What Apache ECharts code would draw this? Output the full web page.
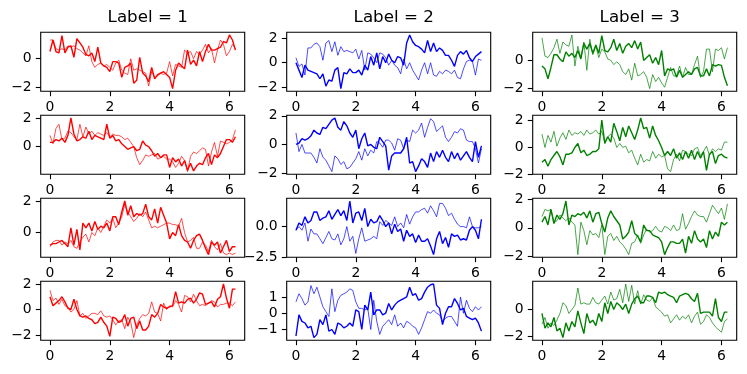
<!DOCTYPE html>
<html>
<head>
<meta charset="utf-8">
<script src="https://cdn.jsdelivr.net/npm/echarts@6/dist/echarts.min.js"></script>
<style>
html,body{margin:0;padding:0;background:#fff;}
#chart{width:747px;height:374px;}
</style>
</head>
<body>
<div id="chart"></div>
<script>
// x values (0 .. 6.2, step 0.1)
const xValues = [0,0.1,0.2,0.3,0.4,0.5,0.6,0.7,0.8,0.9,1,1.1,1.2,1.3,1.4,1.5,1.6,1.7,1.8,1.9,2,2.1,2.2,2.3,2.4,2.5,2.6,2.7,2.8,2.9,3,3.1,3.2,3.3,3.4,3.5,3.6,3.7,3.8,3.9,4,4.1,4.2,4.3,4.4,4.5,4.6,4.7,4.8,4.9,5,5.1,5.2,5.3,5.4,5.5,5.6,5.7,5.8,5.9,6,6.1,6.2];

const titles = ['Label = 1','Label = 2','Label = 3'];
const colors = ['#ff0000','#0000ff','#008000'];
const xTicks = [0,2,4,6];

// Column 1 (Label = 1)
const r1c1Thick = [0.5,1.3,0.5,0.4,1.6,0.4,0.8,0.9,0.1,1.4, 1.1,0.8,0.3,0.2,0.4,-0.2,0.8,-0.3,-0.5,-0.6, -0.9,-0.2,-0.2,-0.3,-1.3,-0.6,-0.5,-0.3,-1.7,-1.5, 0.1,-1.0,-1.2,-1.6,-0.6,-1.4,-1.1,-1.0,-0.9,-1.1, -1.3,-2.08,-0.8,-0.3,-0.5,-0.7,0.6,-0.4,-0.1,-0.5, 0.5,-0.2,0.5,1.0,0.6,0.6,0.7,0.8,1.2,1.1, 1.65,1.3,0.6];
const r1c1Thin = [1.3,1.3,0.7,0.6,0.7,0.6,0.9,0.8,0.9,0.7, 0.6,0.4,0.2,0.9,-0.2,-0.6,-0.4,-0.3,-0.5,-0.4, -0.6,-0.8,-0.3,-0.1,-0.8,-1.0,-1.1,0.0,-0.8,-0.7, -0.8,-0.9,-1.0,-1.9,-0.9,-1.3,-1.2,-1.0,-1.1,-1.0, -0.2,-1.2,-0.4,-0.5,-0.6,0.6,0.4,0.5,0.0,0.5, 0.3,0.6,1.0,0.4,0.7,-0.3,0.6,1.3,1.0,0.2, 0.5,1.0,0.7];
const r2c1Thick = [0.3,0.3,0.5,0.4,0.6,0.3,0.8,2.05,0.9,0.4, 0.5,0.7,0.6,1.1,0.5,0.8,0.7,0.6,0.5,1.6, 0.6,0.8,0.4,0.5,0.2,0.0,-0.2,-0.1,0.0,-0.3, -0.2,0.4,0.1,0.0,-0.3,-0.7,-0.5,-0.8,-0.6,-0.6, -1.5,-0.8,-1.1,-0.9,-1.4,-1.0,-1.7,-1.2,-1.75,-1.4, -1.2,-1.3,-0.8,-0.5,-1.3,-0.6,-0.8,-0.5,0.0,0.5, 0.5,0.3,0.7];
const r2c1Thin = [0.8,0.2,1.3,1.6,0.5,0.6,1.1,1.0,0.7,0.5, 1.6,0.7,1.4,0.9,1.1,0.8,1.0,0.9,0.8,1.0, 0.7,0.9,0.8,0.8,0.7,0.5,0.6,0.3,0.0,-0.8, -1.3,-1.0,-0.6,-0.7,-0.6,-0.5,-0.9,-0.8,-0.7,-0.9, -0.9,-1.1,-1.5,-1.2,-0.7,-1.0,-1.8,-0.7,-0.4,-0.5, -0.3,-0.1,-0.2,-1.4,-0.4,0.3,-0.7,0.4,0.3,0.2, 0.3,0.5,1.2];
const r3c1Thick = [-0.8,-0.7,-0.7,-0.6,-0.5,-0.7,-0.9,0.3,-0.8,0.2, -1.1,0.6,0.3,0.6,0.1,0.7,0.2,0.4,0.3,0.6, 0.1,1.0,1.0,0.5,1.3,2.0,1.1,1.7,1.0,1.2, 1.1,1.2,1.8,1.0,0.8,1.5,0.6,1.6,1.1,0.6, -0.4,0.0,-0.2,0.5,-0.2,-0.5,-0.6,-1.0,-0.5,-0.2, -0.1,-0.5,-1.0,-1.4,-0.6,-0.8,-0.6,-1.3,-0.9,-0.5, -1.2,-0.9,-0.9];
const r3c1Thin = [-0.9,-0.6,-0.5,-0.5,-0.8,-0.6,-0.7,-0.5,-0.9,-1.0, -0.6,-0.3,-0.1,-0.6,0.0,-0.2,0.3,0.0,0.4,0.8, 0.6,0.9,0.3,0.6,1.0,1.8,1.3,1.0,0.7,0.9, 1.2,1.0,1.3,0.8,0.3,0.4,0.3,0.4,0.5,0.6, 0.6,0.5,0.5,0.4,0.9,0.0,-0.6,-0.5,-0.3,-1.0, -1.0,-0.6,-0.8,-1.2,-0.5,-0.9,-1.1,-0.7,-1.3,-1.4, -1.3,-1.4,-1.3];
const r4c1Thick = [1.0,0.3,0.5,0.7,1.0,0.6,0.1,0.0,0.8,0.0, -0.5,-0.6,-0.5,-0.7,-0.8,-1.1,-1.0,-0.6,-1.0,-1.3, -2.1,-0.6,-0.7,-1.0,-0.9,-0.4,-1.3,-0.7,-0.6,-1.5, -0.9,-1.6,-1.6,-1.3,-0.4,-0.6,-0.3,0.4,0.2,0.1, 0.2,0.3,1.4,0.5,0.6,0.5,0.8,0.9,0.5,0.8, 1.3,1.2,0.4,0.5,0.6,0.2,0.8,1.0,2.0,0.9, 0.1,1.6,1.6];
const r4c1Thin = [1.5,0.7,0.9,0.4,0.8,0.3,0.2,-0.2,0.0,0.7, -0.5,-0.3,-0.7,-0.5,-0.3,-0.3,-0.4,-0.1,-0.5,-0.6, -0.5,-0.8,-1.2,-0.9,-0.8,-1.5,-0.6,-1.0,-2.2,-1.2, -0.7,-0.4,-0.5,-0.3,0.6,-0.2,-0.3,-0.9,0.5,0.0, 0.3,0.2,0.7,0.4,-0.2,1.1,1.0,0.6,1.2,0.7, 0.3,0.4,0.3,0.5,0.7,0.6,0.2,0.4,0.4,0.5, 0.5,0.3,0.6];

// Column 2 (Label = 2)
const r1c2Thick = [0.0,-0.6,-1.2,-0.2,-0.6,-0.7,-0.8,-0.9,-1.3,-0.9, -1.9,-1.4,-1.5,-0.6,-0.4,-2.1,-0.8,-0.9,-0.5,-0.8, -0.8,-0.6,-1.0,-0.2,-0.6,0.5,-0.2,0.8,-0.5,0.5, 0.0,0.7,0.2,0.0,0.5,0.4,-0.2,1.6,2.25,1.7, 1.4,1.3,1.1,0.8,1.8,0.9,1.6,0.9,1.2,1.0, 0.6,0.6,0.2,-0.3,0.6,0.9,0.7,1.0,0.4,0.1, 0.5,0.7,0.9];
const r1c2Thin = [0.4,-0.3,-0.1,-1.0,1.2,1.2,1.5,1.6,1.3,0.2, 1.6,1.8,0.9,1.7,0.6,1.3,0.9,1.0,0.9,0.8, 1.1,0.3,1.0,-0.6,0.8,0.7,0.4,0.0,0.8,0.7, 0.4,-0.2,0.2,-0.2,-0.4,-0.9,0.3,-0.5,0.0,-0.6, -1.0,-1.4,-0.6,0.0,-0.9,0.0,-1.0,-1.1,-0.7,-0.9, -0.6,-0.7,-0.9,-0.6,-1.2,-1.3,-0.5,0.1,0.2,0.1, -1.0,0.3,0.2];
const r2c2Thick = [0.0,0.1,0.4,0.3,0.4,0.6,1.0,0.8,0.7,1.2, 1.1,1.4,1.7,1.85,1.2,1.0,1.6,1.3,0.8,0.5, 1.0,-0.3,0.4,0.8,-0.1,0.0,-0.2,-0.3,0.5,0.2, -0.1,-1.8,-0.8,-0.6,-0.6,-0.6,-0.3,0.5,-1.3,-1.2, -1.9,-1.5,-1.0,-1.2,-1.6,-0.6,-1.2,-0.5,-0.9,-0.4, -0.9,-1.2,-0.5,-1.0,-0.6,-1.1,-0.8,-0.5,-0.9,-1.2, 0.2,-0.9,-0.1];
const r2c2Thin = [0.8,-0.5,0.0,-0.6,-0.6,-0.6,-0.9,-1.3,-0.3,-0.9, -1.1,-1.5,-1.9,-0.8,-1.0,-1.4,-1.2,-1.7,-1.6,-1.3, -1.0,-0.5,-1.1,-0.3,-0.8,-0.4,-0.6,0.2,0.1,-0.2, 0.3,0.3,0.1,-0.4,0.4,0.3,-0.3,0.3,0.2,1.0, 0.8,1.0,1.5,0.5,1.2,1.8,1.6,0.9,1.1,1.3, 0.5,0.2,0.5,0.9,0.8,1.1,1.0,0.3,0.2,0.2, -0.3,-1.3,-0.3];
const r3c2Thick = [-0.3,0.3,0.1,0.8,0.3,0.5,1.2,1.2,0.5,0.7, 0.8,1.3,0.6,1.0,1.4,0.9,1.3,0.5,2.1,0.3, 1.1,1.2,0.5,1.5,0.0,0.6,0.3,0.4,0.9,0.5, 0.0,0.3,-0.6,0.2,-0.4,-0.2,-1.2,-0.3,-0.8,-0.6, -1.3,-0.7,-1.2,-1.2,-1.0,-1.6,-2.3,-1.0,-0.4,-1.4, -0.9,-1.7,-0.6,-0.8,-0.7,-1.1,-1.0,-1.1,-0.3,0.0, -0.3,-1.0,0.6];
const r3c2Thin = [-0.3,0.0,-0.3,0.3,-1.2,-0.2,-0.6,-0.6,-1.0,-1.4, -0.9,-0.4,-1.0,-1.1,-0.6,-1.5,-1.0,0.0,-1.2,-0.8, -2.2,-1.0,-0.1,-1.2,-1.1,-1.0,-0.8,-1.0,0.4,0.1, 0.5,0.3,0.1,0.8,0.0,0.3,-0.1,1.0,0.2,0.8, 1.2,1.2,1.4,1.5,1.1,1.7,1.3,0.8,1.9,1.9, 1.5,0.9,1.1,0.6,0.2,0.0,0.0,-0.1,0.8,0.0, -0.1,-0.1,0.0];
const r4c2Thick = [-1.4,-0.1,-0.5,-0.6,-0.9,-0.8,-1.5,-1.3,-0.4,-0.7, -0.1,-1.1,-1.0,-1.3,-0.6,-0.7,-0.9,-0.8,-0.6,-0.8, 0.2,0.1,-1.0,0.5,0.2,1.3,-0.1,0.2,0.2,-0.1, 0.0,0.6,0.2,0.5,0.7,0.8,0.9,1.0,1.6,1.1, 1.2,0.8,0.9,1.3,1.6,1.75,1.8,0.5,0.3,-0.7, 0.0,0.4,0.4,0.9,0.6,0.2,0.3,-0.2,-0.3,-0.4, -0.3,-0.6,-1.1];
const r4c2Thin = [0.7,1.2,0.9,0.5,0.7,1.7,1.2,1.6,1.0,0.4, 0.1,-0.2,1.5,0.1,0.8,1.1,1.2,1.3,1.5,1.4, 0.7,0.3,0.3,0.2,0.3,-1.0,0.8,-0.5,-1.3,-0.8, -0.6,-0.4,-0.7,-0.1,-0.8,-0.6,-0.9,-0.5,-0.6,-0.8, -0.9,-1.3,-0.9,-0.4,0.1,0.0,0.2,0.0,-0.1,-0.5, -0.3,-0.2,-0.2,-0.5,-0.8,1.0,0.0,0.8,0.3,0.1, 0.4,0.2,0.4];

// Column 3 (Label = 3)
const r1c3Thick = [-0.4,-0.6,-1.3,-0.5,0.4,0.4,0.1,-0.1,0.6,0.3, 0.5,0.2,0.7,0.1,1.2,0.8,1.2,0.5,1.1,0.5, 1.75,0.7,0.6,0.9,1.5,0.7,1.2,0.5,1.0,1.2, 0.9,1.4,0.8,1.3,0.0,0.2,0.4,-0.2,0.2,-0.3, 0.7,-1.1,-0.6,-0.7,-0.6,-1.2,-0.7,-1.2,-1.0,-0.8, -1.0,-0.6,-0.5,-1.1,-1.1,-0.6,-1.1,-0.3,-0.4,-0.3, -0.35,-1.2,-1.8];
const r1c3Thin = [1.6,0.3,0.2,0.5,0.9,1.5,0.5,1.3,1.1,1.0, 1.8,-0.4,1.0,0.2,1.3,-0.7,1.5,0.4,1.0,0.2, 0.8,0.6,0.1,0.0,-0.3,-0.1,-0.3,-0.8,-1.0,-0.6, -1.4,-0.2,-1.1,-1.0,-0.8,-1.2,-2.0,-1.0,-1.5,-1.2, -1.6,-1.9,-1.2,-0.5,-1.1,-1.1,-0.4,-1.2,-0.5,-1.0, -1.0,-0.3,0.3,-1.2,-0.8,0.8,0.8,-0.8,0.8,0.7, 0.9,0.1,0.9];
const r2c3Thick = [-1.1,-0.9,-1.4,-0.9,-0.6,-0.3,-0.7,-1.3,-0.5,-0.5, -0.4,0.0,0.3,-0.4,-0.2,-0.6,-0.5,-0.3,-0.3,-0.1, 2.05,0.3,0.8,0.4,1.8,1.2,0.5,1.5,0.8,1.6, 1.1,0.6,1.3,2.2,1.4,1.5,0.7,1.6,0.9,0.5, 0.0,-0.6,-0.3,-0.6,-0.1,-0.8,-0.4,-0.9,-0.3,-0.8, -0.2,-0.9,-0.3,-0.8,-0.3,-1.7,-0.5,-0.3,-1.2,-0.6, -0.5,-0.7,-0.8];
const r2c3Thin = [1.0,0.0,0.9,0.4,1.2,0.1,0.7,1.1,0.6,1.3, 0.9,1.1,1.0,1.2,0.9,1.3,1.0,1.1,1.3,1.0, 1.2,0.4,0.8,1.0,0.7,0.0,0.3,0.0,0.1,-0.4, -0.2,-0.8,-1.3,-0.5,-1.1,-0.9,-1.0,-0.3,-0.8,-0.5, -0.7,-0.6,-1.6,-1.8,-0.9,-0.5,-1.0,-0.2,-0.3,-0.5, -0.6,-0.1,0.0,-0.6,-0.3,0.1,-0.6,-0.1,-0.3,-0.1, -0.2,0.4,0.4];
const r3c3Thick = [0.4,0.8,0.2,1.3,0.3,0.9,0.6,1.0,1.9,0.2, 0.9,0.8,1.0,0.9,1.1,0.7,1.2,0.4,1.0,1.1, 0.3,-0.3,0.7,1.2,0.8,0.5,0.2,-0.8,-0.6,-0.3, 0.5,-0.4,-0.6,-1.0,0.2,-0.2,-0.2,-0.5,-0.6,-0.7, -1.0,-1.9,-1.4,-1.0,-1.0,-1.1,-1.1,-0.8,-1.8,-0.6, -1.1,-0.2,-0.8,-1.0,-0.8,-1.4,-0.2,-0.8,-0.3,-0.6, 0.4,0.2,0.4];
const r3c3Thin = [0.8,1.3,1.2,1.3,0.4,0.5,0.9,0.7,0.5,0.7, 0.4,0.2,-1.9,0.4,-0.2,-1.2,-0.2,-0.5,-0.4,-0.7, 0.2,-1.9,-0.6,-0.4,-0.9,-0.6,-1.0,-1.2,-1.5,-1.9, -1.1,-1.0,-0.5,-1.1,-0.5,-0.1,-0.3,-0.2,0.1,-0.2, -0.3,0.1,0.0,-0.2,0.2,-0.2,-0.1,1.0,-0.1,0.3, 0.8,1.2,0.9,0.8,0.8,0.4,1.0,1.6,1.3,1.0, 1.4,0.6,1.7];
const r4c3Thick = [-0.3,-1.4,-1.0,-1.3,-0.6,-1.6,-1.4,-2.1,-1.0,-1.6, -0.9,-1.3,-0.1,-1.0,-1.8,-0.3,-1.0,-0.8,-1.2,-0.3, -0.9,0.5,-0.3,0.6,0.0,0.5,0.3,0.0,0.4,-0.3, 0.4,0.8,1.0,0.5,0.5,1.0,1.0,0.9,0.5,1.3, 1.2,1.3,1.1,1.0,0.9,0.5,1.0,1.1,1.2,1.1, 0.8,0.6,1.2,-0.3,-0.2,-0.2,-0.2,-0.5,0.8,-0.6, -0.9,-0.2,-0.2];
const r4c3Thin = [-1.1,-0.6,-1.4,-1.0,-1.2,-0.8,-0.3,0.5,0.3,-0.3, 0.0,0.3,1.6,0.4,0.5,0.4,0.4,0.9,0.5,0.4, 0.7,1.0,0.4,1.3,0.7,0.8,1.5,0.5,1.9,0.6, 1.8,0.4,1.4,0.4,1.1,0.7,0.6,0.9,0.2,0.0, -0.2,-0.5,-0.4,-1.0,-0.7,-0.4,-0.8,-0.5,-0.7,-0.4, -1.0,-0.5,-0.2,-1.1,-0.9,-0.4,-0.6,-1.0,-1.3,-1.5, -1.7,-0.9,-0.7];

// y tick values per panel [row][col]
const yTicks = [
  [[-2,0],[-2,0,2],[-2,0]],
  [[0,2],[-2,0,2],[-2,0,2]],
  [[0,2],[-2.5,0],[-2,0,2]],
  [[-2,0,2],[-1,0,1],[-2,0]]
];
const yDecimals = [[0,0,0],[0,0,0],[0,1,0],[0,0,0]];

const thickData = [
  [r1c1Thick, r1c2Thick, r1c3Thick],
  [r2c1Thick, r2c2Thick, r2c3Thick],
  [r3c1Thick, r3c2Thick, r3c3Thick],
  [r4c1Thick, r4c2Thick, r4c3Thick]
];
const thinData = [
  [r1c1Thin, r1c2Thin, r1c3Thin],
  [r2c1Thin, r2c2Thin, r2c3Thin],
  [r3c1Thin, r3c2Thin, r3c3Thin],
  [r4c1Thin, r4c2Thin, r4c3Thin]
];

const colLeft = [40.7, 286.7, 532.7];
const rowTop = [32.3, 115.3, 198.3, 281.3];
const panelW = 204;
const panelH = 59;
const FONT = 'DejaVu Sans';

function fmt(v, d) {
  const s = Number(v).toFixed(d);
  return s.replace('-', '\u2212');
}
function padMin(v) { return v.min - 0.05 * (v.max - v.min); }
function padMax(v) { return v.max + 0.05 * (v.max - v.min); }

const grids = [], xAxes = [], yAxes = [], series = [], titleList = [];
let idx = 0;
for (let r = 0; r < 4; r++) {
  for (let c = 0; c < 3; c++) {
    grids.push({
      left: colLeft[c], top: rowTop[r], width: panelW, height: panelH,
      show: true, borderColor: '#000', borderWidth: 1.1, backgroundColor: '#fff', containLabel: false
    });
    xAxes.push({
      type: 'value', gridIndex: idx, min: padMin, max: padMax, position: 'bottom',
      axisLine: { show: false, onZero: false },
      splitLine: { show: false },
      axisTick: { show: true, inside: false, length: 4.9, customValues: xTicks, lineStyle: { color: '#000', width: 1.1 } },
      axisLabel: { show: true, customValues: xTicks, margin: 9, color: '#000', fontSize: 13.9, fontFamily: FONT,
        formatter: v => fmt(v, 0) }
    });
    const yt = yTicks[r][c];
    const dec = yDecimals[r][c];
    yAxes.push({
      type: 'value', gridIndex: idx, min: padMin, max: padMax, position: 'left',
      axisLine: { show: false, onZero: false },
      splitLine: { show: false },
      axisTick: { show: true, inside: false, length: 4.9, customValues: yt, lineStyle: { color: '#000', width: 1.1 } },
      axisLabel: { show: true, customValues: yt, margin: 9, color: '#000', fontSize: 13.9, fontFamily: FONT,
        formatter: v => fmt(v, dec) }
    });
    const thick = thickData[r][c].map((y, i) => [xValues[i], y]);
    const thin = thinData[r][c].map((y, i) => [xValues[i], y]);
    series.push({
      type: 'line', xAxisIndex: idx, yAxisIndex: idx, data: thick, showSymbol: false, symbol: 'none',
      lineStyle: { color: colors[c], width: 1.4 }, silent: true, z: 3
    });
    series.push({
      type: 'line', xAxisIndex: idx, yAxisIndex: idx, data: thin, showSymbol: false, symbol: 'none',
      lineStyle: { color: colors[c], width: 0.7 }, silent: true, z: 2
    });
    idx++;
  }
}
for (let c = 0; c < 3; c++) {
  titleList.push({
    text: titles[c], left: colLeft[c] + panelW / 2, top: 4, textAlign: 'center',
    textStyle: { fontFamily: FONT, fontSize: 16.7, fontWeight: 'normal', color: '#000' }
  });
}

const chart = echarts.init(document.getElementById('chart'), null, { renderer: 'canvas' });
chart.setOption({
  animation: false,
  backgroundColor: '#fff',
  title: titleList,
  grid: grids,
  xAxis: xAxes,
  yAxis: yAxes,
  series: series
});
</script>
</body>
</html>
